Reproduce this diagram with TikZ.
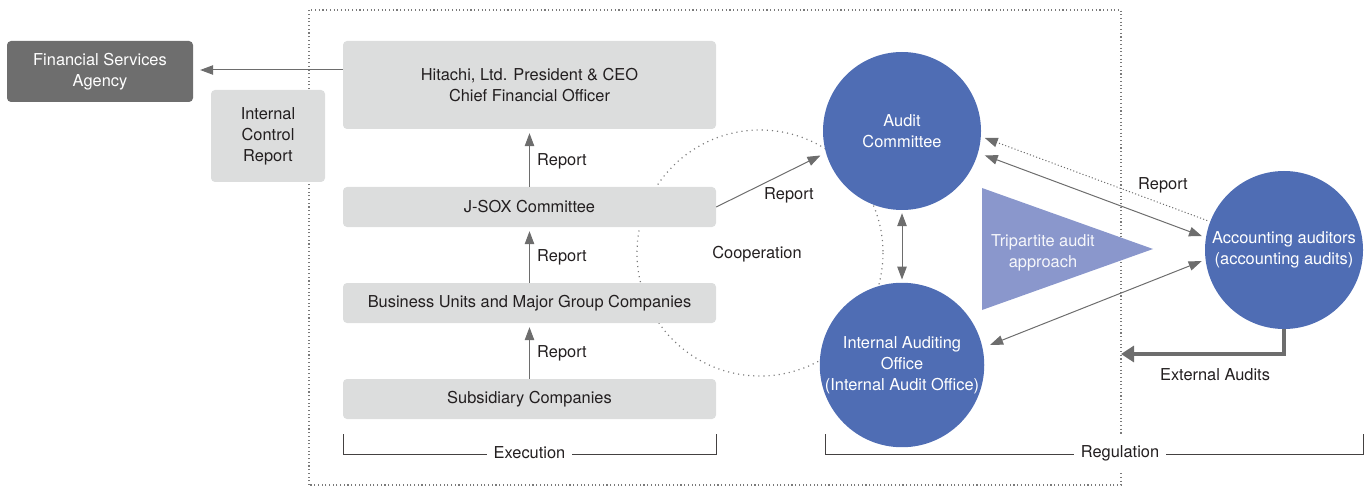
\documentclass[tikz,border=0pt]{standalone}
\usepackage{fontspec}
\setmainfont{TeX Gyre Heros}
\usetikzlibrary{arrows.meta}
\definecolor{boxgray}{HTML}{DCDDDD}
\definecolor{darkbox}{HTML}{6E6E6E}
\definecolor{txt}{HTML}{231F20}
\definecolor{arr}{HTML}{6D6D6D}
\definecolor{circblue}{HTML}{4F6DB4}
\definecolor{triblue}{HTML}{8A97CC}
\definecolor{dotgray}{HTML}{7A7A7A}
\tikzset{
  lbox/.style={fill=boxgray, rounded corners=4pt, text=txt, align=center, inner sep=0pt},
  dbox/.style={fill=darkbox, rounded corners=4pt, text=white, align=center, inner sep=0pt},
  bcirc/.style={circle, fill=circblue, text=white, align=center, inner sep=0pt, minimum size=158pt},
  lab/.style={text=txt, inner sep=1pt},
  conn/.style={draw=arr, line width=1pt, -{Triangle[length=13pt,width=9.5pt]}},
  dconn/.style={draw=arr, line width=1pt, {Triangle[length=13pt,width=9.5pt]}-{Triangle[length=13pt,width=9.5pt]}},
  dotline/.style={draw=dotgray, line width=1.2pt, dash pattern=on 1.1pt off 2.6pt},
  coopline/.style={draw=dotgray, line width=1.2pt, dash pattern=on 1.1pt off 4pt},
  brk/.style={draw=txt!85, line width=0.9pt}
}
\begin{document}
\begin{tikzpicture}[x=1pt, y=-1pt, font=\fontsize{16.4}{21}\selectfont]
\useasboundingbox (0,0) rectangle (1370,489);

% dotted frame
\draw[dotline] (309,485) rectangle (1121,10);

% cooperation circle
\draw[coopline] (760,253) circle (123);

% left boxes
\node[dbox, minimum width=186pt, minimum height=61pt] (fsa) at (100,71.5) {Financial Services\\Agency};
\node[lbox, minimum width=114pt, minimum height=92pt] (icr) at (268,136) {Internal\\Control\\Report};
\node[lbox, minimum width=373pt, minimum height=88pt] (ceo) at (529.5,85) {Hitachi, Ltd. President \& CEO\\Chief Financial Officer};
\node[lbox, minimum width=373pt, minimum height=40pt] (jsox) at (529.5,207) {J-SOX Committee};
\node[lbox, minimum width=373pt, minimum height=40pt] (bu) at (529.5,303) {Business Units and Major Group Companies};
\node[lbox, minimum width=373pt, minimum height=40pt] (sub) at (529.5,399) {Subsidiary Companies};

% circles and triangle
\node[bcirc] (ac) at (902,131) {Audit\\Committee};
\node[bcirc] (iao) at (902,365) {Internal Auditing\\Office\\(Internal Audit Office)};
\node[bcirc] (acc) at (1284,250) {Accounting auditors\\(accounting audits)};
\fill[triblue] (982,188) -- (1153,249) -- (982,310) -- cycle;
\node[text=white!92!triblue, align=center] (tri) at (1043,252.5) {Tripartite audit\\approach};

% left arrows
\draw[conn, shorten >=7pt] (ceo.west |- 0,70) -- (fsa.east |- 0,70);
\draw[conn, shorten >=4pt] (jsox.north) -- (ceo.south);
\draw[conn, shorten >=4pt] (bu.north) -- (jsox.north |- jsox.south);
\draw[conn, shorten >=4pt] (sub.north) -- (bu.north |- bu.south);
\node[lab] (r1) at (562,161) {Report};
\node[lab] (r2) at (562,257) {Report};
\node[lab] (r3) at (562,353) {Report};

% J-SOX to audit committee
\draw[conn, shorten >=6pt] (jsox.east) -- (ac.196);
\node[lab] (r4) at (789,195) {Report};
\node[lab] (coop) at (757,254) {Cooperation};

% audit committee <-> internal audit office
\draw[dconn, shorten >=3pt, shorten <=3pt] (ac.south) -- (iao.north);

% right arrows
\draw[dconn, shorten >=4pt, shorten <=7pt] (ac.344) -- (acc.171.7);
\draw[draw=arr, line width=1pt, dash pattern=on 1.1pt off 2.2pt, -{Triangle[length=13pt,width=9.5pt]}, shorten >=4pt, shorten <=3pt] (acc.159) -- (ac.356);
\draw[dconn, shorten >=8pt, shorten <=4pt] (acc.187.6) -- (iao.12);
\node[lab] (r5) at (1163,185) {Report};

% external audits
\coordinate (ext) at (1121,354);
\draw[draw=arr, line width=4pt, -{Triangle[length=13pt,width=16pt]}] (acc.south) |- (ext);
\node[lab] (ea) at (1215,375) {External Audits};

% brackets
\draw[brk] (343,434) |- (716,454) -- (716,434);
\node[lab, fill=white, inner xsep=7pt] (exe) at (529.5,453) {Execution};
\draw[brk] (825,434) |- (1363,454) -- (1363,434);
\node[lab, fill=white, inner xsep=7pt, inner ysep=10pt] (reg) at (1120,453) {Regulation};
\end{tikzpicture}
\end{document}
